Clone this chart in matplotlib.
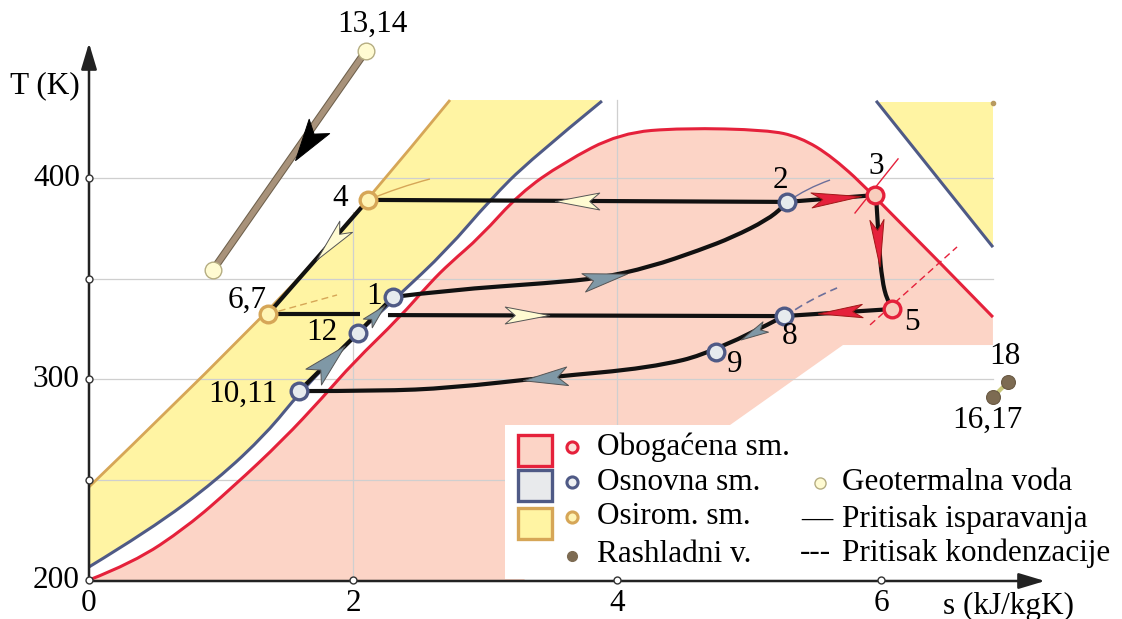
import numpy as np
import matplotlib
matplotlib.use('Agg')
import matplotlib.pyplot as plt
from matplotlib.markers import MarkerStyle
from matplotlib.path import Path
from matplotlib.patches import Polygon, Rectangle, PathPatch
from matplotlib.transforms import Affine2D
import matplotlib.patheffects as pe

plt.rcParams['font.family'] = ['Liberation Serif', 'DejaVu Serif']

# boundary of the enriched solution (red), s in kJ/kgK, T in K
red_s = [0.000, 0.333, 0.742, 1.091, 1.470, 1.773, 2.000, 2.356, 2.583, 2.735, 2.962,
         3.265, 3.591, 4.023, 4.500, 5.136, 5.386, 5.636, 5.955, 6.848]
red_T = [200.0, 208.5, 226.4, 246.3, 269.7, 291.0, 308.0, 330.8, 347.8, 357.7, 370.6,
         392.5, 407.5, 422.4, 424.9, 423.9, 420.4, 410.4, 391.0, 330.8]
# basic solution (blue)
blue_s = [0.000, 0.462, 0.970, 1.348, 1.598, 2.038, 2.333, 2.712, 3.038, 3.341, 3.886]
blue_T = [206.5, 224.9, 249.8, 273.1, 293.5, 322.9, 340.8, 364.2, 389.1, 409.0, 438.3]
blue2_s = [5.970, 6.841]
blue2_T = [437.8, 366.2]
# depleted solution (gold)
gold_s = [0.000, 1.356, 2.114, 2.735]
gold_T = [246.3, 332.3, 389.1, 438.8]

# cycle lines
evap_s = [2.114, 5.288, 5.955]
evap_T = [389.1, 388.1, 391.5]
turb_s = [5.962, 5.985, 6.008, 6.045, 6.083]
turb_T = [391.5, 365.7, 349.3, 339.3, 334.8]
cond_s = [6.083, 5.265, 2.265]
cond_T = [334.8, 331.3, 331.8]
cond2_s = [2.053, 1.356]
cond2_T = [332.3, 332.3]
throt_s = [2.114, 1.356]
throt_T = [389.1, 332.3]
heat_s = [2.303, 2.735, 3.492, 3.871, 4.250, 4.629, 4.879, 5.136, 5.258, 5.288]
heat_T = [340.8, 344.3, 347.8, 350.2, 355.7, 364.2, 370.6, 379.1, 385.6, 388.1]
cool_s = [5.265, 4.750, 4.250, 3.492, 2.735, 2.205, 1.591]
cool_T = [331.3, 313.4, 305.5, 301.0, 295.5, 294.0, 294.0]
pump_s = [1.591, 2.038, 2.303]
pump_T = [294.0, 322.9, 340.8]
geo_s = [2.098, 0.939]
geo_T = [463.2, 354.2]
cw_s = [6.848, 6.962]
cw_T = [291.0, 298.5]

# state points
red_pts_s = [5.955, 6.083]
red_pts_T = [391.5, 334.8]
blue_pts_s = [2.303, 5.288, 5.265, 4.750, 1.591, 2.038]
blue_pts_T = [340.8, 388.1, 331.3, 313.4, 294.0, 322.9]
gold_pts_s = [2.114, 1.356]
gold_pts_T = [389.1, 332.3]

RED = '#e5213b'
PINK = '#fcd4c6'
BLUE = '#4f5a86'
GOLD = '#d6a657'
YEL = '#fff4a3'
GRAYA = '#7f98a6'
PALE = '#fffbd2'

fig = plt.figure(figsize=(11.22, 6.19), dpi=100)
ax = fig.add_axes([0, 0, 1, 1])
ax.set_xlim(-89 / 132, (1122 - 89) / 132)
ax.set_ylim(200 - 39 / 2.01, 200 + 580 / 2.01)
ax.axis('off')

# pixel transform (origin top-left) for layout items
px = Affine2D().scale(1 / 1122, -1 / 619).translate(0, 1) + fig.transFigure


def smooth(xs, ys):
    # quadratic bezier through midpoints, passes through the end points
    p = list(zip(xs, ys))
    if len(p) < 3:
        return p, [Path.MOVETO] + [Path.LINETO] * (len(p) - 1)
    verts = [p[0]]
    codes = [Path.MOVETO]
    for i in range(1, len(p) - 1):
        if i < len(p) - 2:
            end = ((p[i][0] + p[i + 1][0]) / 2, (p[i][1] + p[i + 1][1]) / 2)
        else:
            end = p[-1]
        verts += [p[i], end]
        codes += [Path.CURVE3, Path.CURVE3]
    return verts, codes


def curve(xs, ys, **kw):
    v, c = smooth(xs, ys)
    ax.add_patch(PathPatch(Path(v, c), fill=False, **kw))


# fills
v, c = smooth(red_s, red_T)
extra = [(6.848, 316.9), (5.712, 316.9), (4.856, 277.1), (3.3, 277.1), (3.3, 200), (0, 200)]
v = v + extra
c = c + [Path.LINETO] * (len(extra) - 1) + [Path.CLOSEPOLY]
ax.add_patch(PathPatch(Path(v, c), fc=PINK, ec='none', zorder=1))

v1, c1 = smooth(gold_s, gold_T)
v2, c2 = smooth(blue_s[::-1], blue_T[::-1])
v = v1 + [(3.886, 438.8)] + v2[1:] + [(0, 246.3)]
c = c1 + [Path.LINETO] + c2[1:] + [Path.CLOSEPOLY]
ax.add_patch(PathPatch(Path(v, c), fc=YEL, ec='none', zorder=1))
ax.add_patch(Polygon([(5.970, 437.8), (6.848, 437.8), (6.848, 366.2)], closed=True, fc=YEL, ec='none', zorder=1))

# grid
for t in [250, 300, 350, 400]:
    ax.plot([0, 6.848], [t, t], color='#cfcfcf', lw=0.9, zorder=2)
ax.plot([2, 2], [200, 383], color='#cfcfcf', lw=0.9, zorder=2)
ax.plot([4, 4], [200, 438.8], color='#cfcfcf', lw=0.9, zorder=2)

# boundary lines
curve(red_s, red_T, ec=RED, lw=2.2, zorder=3)
curve(blue_s, blue_T, ec=BLUE, lw=2.2, zorder=3)
ax.plot(blue2_s, blue2_T, color=BLUE, lw=2.2, zorder=3)
curve(gold_s, gold_T, ec=GOLD, lw=2.0, zorder=3)
ax.plot([6.848], [437.3], 'o', ms=3, color='#b89a60', zorder=3)

# thin isobars
curve([2.114, 2.35, 2.583], [389.1, 395.5, 399.5], ec=GOLD, lw=1.0, zorder=3)
ax.plot([1.356, 1.879], [332.3, 341.8], color=GOLD, lw=1.0, ls=(0, (5, 3)), zorder=3)
curve([5.288, 5.439, 5.614], [388.1, 395.0, 399.0], ec='#6c6f9a', lw=1.0, zorder=3)
curve([5.265, 5.447, 5.667], [330.8, 339.3, 345.3], ec='#6c6f9a', lw=1.2, ls=(0, (5, 3)), zorder=3)
ax.plot([5.803, 6.129], [382.6, 409.5], color=RED, lw=1.0, zorder=3)
ax.plot([5.917, 6.576], [326.9, 365.7], color=RED, lw=1.0, ls=(0, (5, 3)), zorder=3)

# cycle lines
for xs, ys in [(evap_s, evap_T), (cond_s, cond_T), (cond2_s, cond2_T),
               (throt_s, throt_T), (pump_s, pump_T)]:
    ax.plot(xs, ys, color='#111111', lw=3.0, solid_capstyle='butt', zorder=4)
for xs, ys in [(turb_s, turb_T), (heat_s, heat_T), (cool_s, cool_T)]:
    curve(xs, ys, ec='#111111', lw=3.0, capstyle='butt', zorder=4)

# geothermal water and cooling water
ax.plot(geo_s, geo_T, color='#a8927a', lw=4.0, zorder=4,
        path_effects=[pe.Stroke(linewidth=5.5, foreground='#6e604c'), pe.Normal()])
ax.plot(cw_s, cw_T, color='#c9c77a', lw=3.0, zorder=4)


def head_path(w):
    return Path([(1, 0), (-1, w), (-0.55, 0), (-1, -w), (1, 0)],
                [Path.MOVETO, Path.LINETO, Path.LINETO, Path.LINETO, Path.CLOSEPOLY])


def arrow(s, t, ds, dt, fc, size, w=0.38, ec='#555555'):
    p0 = ax.transData.transform((s, t))
    p1 = ax.transData.transform((s + ds, t + dt))
    ang = np.degrees(np.arctan2(p1[1] - p0[1], p1[0] - p0[0]))
    m = MarkerStyle(head_path(w), transform=Affine2D().rotate_deg(ang))
    ax.plot([s], [t], marker=m, ms=size, mfc=fc, mec=ec, mew=0.7, ls='none', zorder=5)


arrow(1.652, 417.4, -1.159, -109, 'black', 30, w=0.6, ec='black')
arrow(3.697, 388.6, -1, 0, PALE, 32)
arrow(5.659, 390.0, 0.667, 3.4, RED, 36, w=0.3, ec='#a01818')
arrow(5.977, 367.7, 0.02, -20, RED, 34, w=0.3, ec='#a01818')
arrow(5.689, 333.1, -0.818, -3.5, RED, 32, w=0.3, ec='#a01818')
arrow(3.318, 331.6, 1, 0, PALE, 32)
arrow(1.833, 367.5, -0.758, -56.8, PALE, 32)
arrow(3.909, 350.4, 0.38, 5.0, GRAYA, 32, w=0.42)
arrow(5.030, 323.1, -0.515, -17.9, GRAYA, 20, w=0.42)
arrow(3.455, 300.6, -0.757, -5.0, GRAYA, 32, w=0.42)
arrow(1.820, 309.0, 0.447, 28.9, GRAYA, 32, w=0.5)
arrow(2.174, 332.1, 0.265, 17.9, GRAYA, 18, w=0.5)

# state point markers
ax.plot(red_pts_s, red_pts_T, 'o', ms=12, mfc='#f8cdbd', mec=RED, mew=2.4, zorder=6)
ax.plot(blue_pts_s, blue_pts_T, 'o', ms=12, mfc='#e6ebee', mec=BLUE, mew=2.4, zorder=6)
ax.plot(gold_pts_s, gold_pts_T, 'o', ms=12, mfc='#fff4b4', mec=GOLD, mew=2.4, zorder=6)
ax.plot(geo_s, geo_T, 'o', ms=12, mfc=PALE, mec='#b5ad82', mew=1.0, zorder=6)
ax.plot(cw_s, cw_T, 'o', ms=10, mfc='#7d6b52', mec='#6a5a44', mew=0.8, zorder=6)

fs = 22.5
labels = [('13,14', 372, 24), ('4', 340, 199), ('6,7', 247, 300), ('1', 374, 296),
          ('12', 322, 332), ('10,11', 243, 394), ('2', 780, 180), ('3', 876, 166),
          ('5', 912, 323), ('8', 790, 337), ('9', 735, 364), ('18', 1005, 357),
          ('16,17', 987, 420)]
for txt, x, y in labels:
    ax.text(x, y, txt, transform=px, fontsize=fs, ha='center', va='center', zorder=8)

# axes with arrows
ax.annotate('', xy=(89, 43), xytext=(89, 581), xycoords=px, textcoords=px,
            arrowprops=dict(arrowstyle='-|>,head_length=1.0,head_width=0.3', lw=1.8,
                            color='#222222', shrinkA=0, shrinkB=0, mutation_scale=16), zorder=9)
ax.annotate('', xy=(1045, 581), xytext=(89, 581), xycoords=px, textcoords=px,
            arrowprops=dict(arrowstyle='-|>,head_length=1.0,head_width=0.3', lw=1.8,
                            color='#222222', shrinkA=0, shrinkB=0, mutation_scale=16), zorder=9)
ax.plot([0, 0, 0, 0, 0, 2, 4, 6], [200, 250, 300, 350, 400, 200, 200, 200], 'o', ms=5,
        mfc='white', mec='#333333', mew=1.0, zorder=10, clip_on=False)
for t in [200, 300, 400]:
    ax.text(-0.07, t, str(t), fontsize=fs, ha='right', va='center', zorder=8)
for s in [0, 2, 4, 6]:
    ax.text(s, 188.5, str(s), fontsize=fs, ha='center', va='center', zorder=8)
ax.text(45, 86, 'T (K)', transform=px, fontsize=fs, ha='center', va='center')
ax.text(1009, 606, 's (kJ/kgK)', transform=px, fontsize=fs, ha='center', va='center')

# legend
ax.add_patch(Rectangle((505, 425), 617, 154, transform=px, fc='white', ec='none', zorder=7))
sq = [(435, PINK, RED), (470, '#e8eaec', BLUE), (508, YEL, GOLD)]
for y, fc, ec in sq:
    ax.add_patch(Rectangle((518, y), 34, 31, transform=px, fc=fc, ec=ec, lw=2.4, zorder=8))
ax.plot([572], [447], 'o', transform=px, ms=8, mfc='#fbe0d8', mec=RED, mew=2.2, zorder=8)
ax.plot([572], [482], 'o', transform=px, ms=8, mfc='#eef0f2', mec=BLUE, mew=2.2, zorder=8)
ax.plot([572], [517], 'o', transform=px, ms=8, mfc='#fff4b4', mec=GOLD, mew=2.2, zorder=8)
ax.plot([572], [556], 'o', transform=px, ms=7, mfc='#7d6b52', mec='#7d6b52', zorder=8)
ax.plot([820], [483], 'o', transform=px, ms=8, mfc=PALE, mec='#b5ad82', mew=1.0, zorder=8)
for txt, x, y in [('Obogaćena sm.', 597, 447), ('Osnovna sm.', 597, 482), ('Osirom. sm.', 597, 517),
                  ('Rashladni v.', 597, 555), ('Geotermalna voda', 842, 483),
                  ('—', 801, 519), ('Pritisak isparavanja', 842, 519),
                  ('---', 800, 553), ('Pritisak kondenzacije', 842, 553)]:
    ax.text(x, y, txt, transform=px, fontsize=fs, ha='left', va='center', zorder=8)

fig.savefig('out.png', dpi=100)
